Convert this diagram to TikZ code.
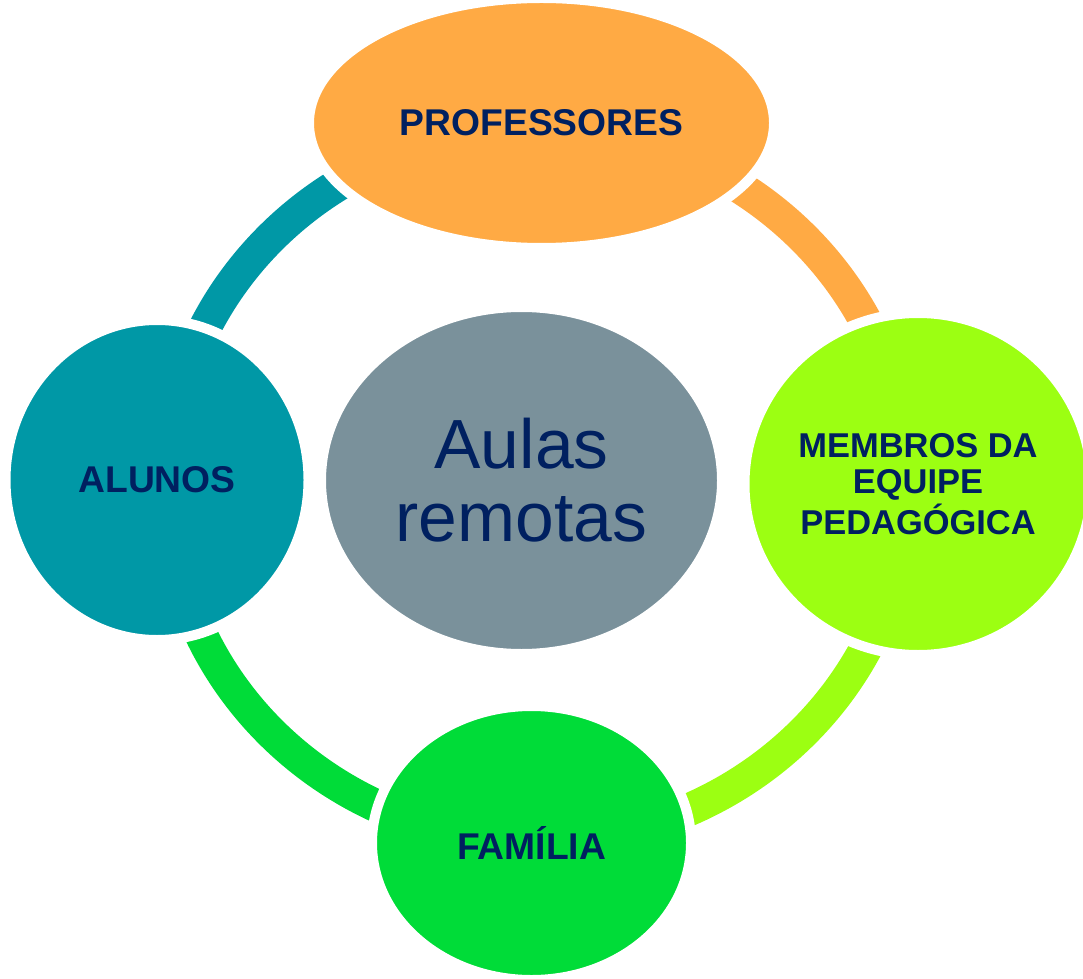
\documentclass[tikz,border=0pt]{standalone}
\usepackage{fontspec}
\setmainfont{Liberation Sans}
\usetikzlibrary{shapes.geometric}
\definecolor{navytext}{HTML}{002060}
\definecolor{profcol}{HTML}{FFAA44}
\definecolor{membcol}{HTML}{9CFF12}
\definecolor{famcol}{HTML}{00DC38}
\definecolor{alunocol}{HTML}{0098A6}
\definecolor{hubcol}{HTML}{7A919B}
\tikzset{
  bubble/.style={ellipse, draw=white, line width=1mm, inner sep=0pt, align=center,
    text=navytext, font=\bfseries\fontsize{10.6}{11}\selectfont},
  ringarc/.style={line width=3.3mm},
}

\begin{document}
\begin{tikzpicture}
			%%%%% START %%%%%
			\useasboundingbox (0, 0) rectangle (10.83, 9.78);
			
			\coordinate (hub) at (5.37, 4.93);
			
			% ring segments, one per step of the cycle
			\draw[ringarc, color=profcol] (hub) ++(90:3.70 and 3.56) arc[start angle=90, end angle=0, x radius=3.70, y radius=3.56];
			\draw[ringarc, color=membcol] (hub) ++(0:3.70 and 3.56) arc[start angle=0, end angle=-90, x radius=3.70, y radius=3.56];
			\draw[ringarc, color=famcol] (hub) ++(-90:3.70 and 3.56) arc[start angle=-90, end angle=-180, x radius=3.70, y radius=3.56];
			\draw[ringarc, color=alunocol] (hub) ++(180:3.70 and 3.56) arc[start angle=180, end angle=90, x radius=3.70, y radius=3.56];
			
			\node[bubble, fill=profcol, minimum width=4.65cm, minimum height=2.50cm] (prof) at (5.415, 8.55) {PROFESSORES};
			\node[bubble, fill=membcol, minimum width=3.47cm, minimum height=3.42cm,
			  font=\bfseries\fontsize{9.8}{10.4}\selectfont] (memb) at (9.18, 4.94) {MEMBROS DA\\EQUIPE\\PEDAG\'OGICA};
			\node[bubble, fill=famcol, minimum width=3.19cm, minimum height=2.74cm] (fam) at (5.315, 1.35) {FAM\'ILIA};
			\node[bubble, fill=alunocol, minimum width=3.03cm, minimum height=3.20cm] (alunos) at (1.57, 4.98) {ALUNOS};
			
			\node[bubble, fill=hubcol, minimum width=4.01cm, minimum height=3.47cm,
			  font=\fontsize{19.8}{20.8}\selectfont] (aulas) at (5.215, 4.975) {Aulas\\remotas};
			
			%%%%% END %%%%%
\end{tikzpicture}
\end{document}
